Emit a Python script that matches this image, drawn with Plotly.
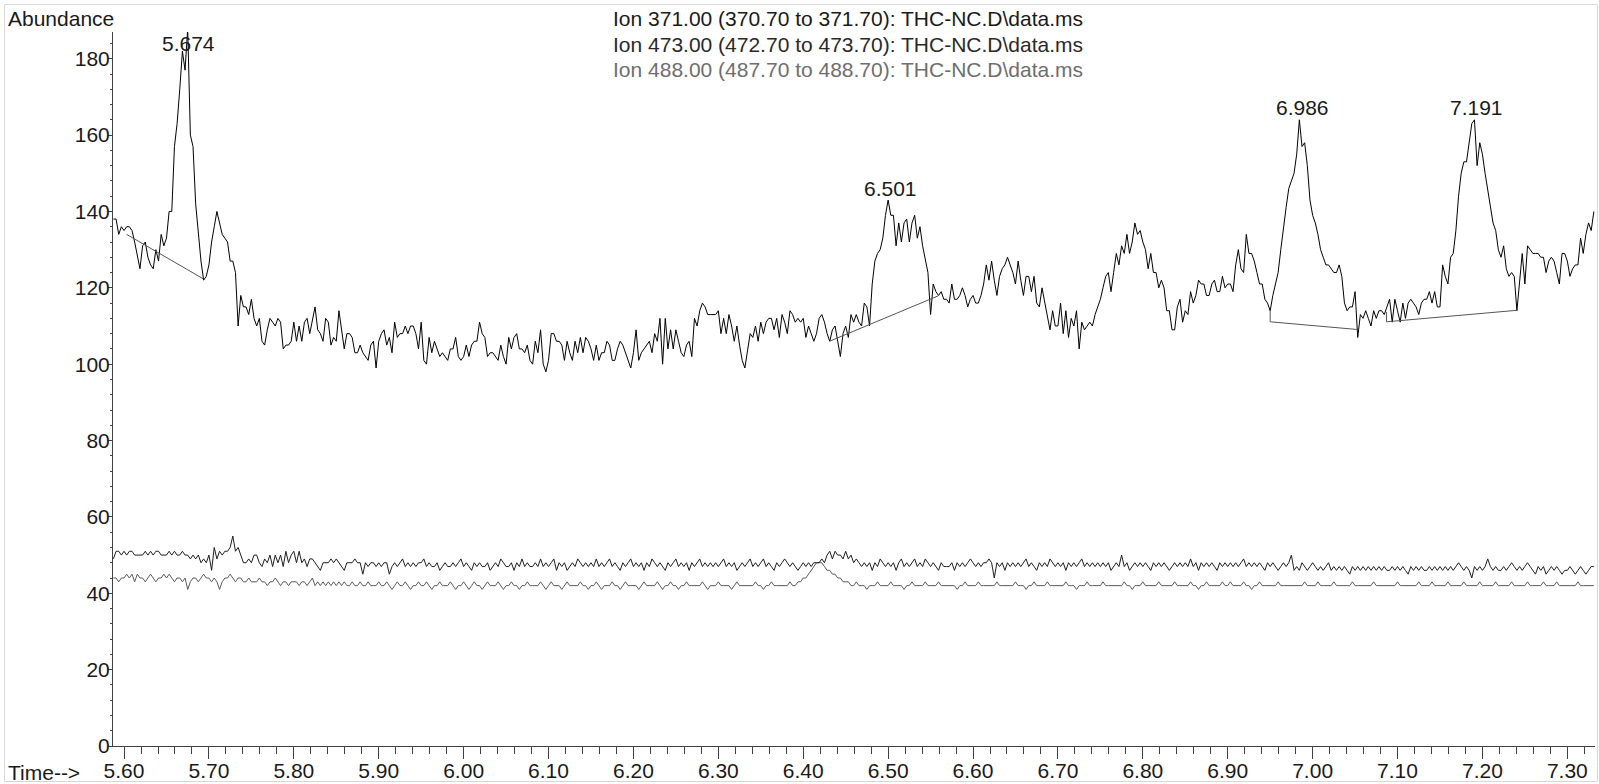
import numpy as np
import plotly.graph_objects as go

# ---------------- data ----------------
T0 = 5.5875          # first scan time (min)
DT = 0.003125        # scan interval (min)

ion371 = [
    138, 138, 134, 136,
    135, 136, 136, 135, 132, 128, 125, 131, 132, 128, 126, 125, 130, 127, 134, 131,
    133, 140, 140, 157, 163, 172, 182, 177, 188, 160, 157, 142, 134, 127, 122, 123,
    126, 132, 136, 140, 137, 134, 133, 132, 127, 127, 124, 110, 118, 115, 115, 113,
    117, 112, 110, 112, 106, 105, 109, 112, 111, 110, 112, 111, 104, 105, 105, 106,
    111, 106, 110, 106, 111, 112, 108, 112, 115, 109, 108, 106, 112, 111, 105, 107,
    106, 114, 109, 104, 108, 108, 107, 103, 103, 105, 103, 102, 101, 105, 106, 99,
    106, 108, 109, 105, 107, 103, 111, 107, 108, 108, 110, 108, 110, 110, 108, 104,
    111, 101, 100, 107, 103, 106, 104, 102, 103, 102, 101, 104, 104, 107, 102, 101,
    102, 105, 102, 105, 106, 106, 111, 108, 107, 102, 103, 103, 102, 101, 105, 102,
    100, 107, 104, 107, 108, 104, 104, 103, 105, 101, 100, 106, 103, 109, 100, 98,
    101, 108, 108, 106, 106, 105, 101, 106, 103, 101, 106, 103, 107, 103, 107, 106,
    104, 101, 105, 101, 103, 103, 106, 105, 101, 101, 104, 106, 105, 103, 101, 99,
    103, 109, 101, 103, 104, 105, 106, 103, 108, 106, 112, 100, 112, 104, 109, 104,
    109, 106, 103, 102, 105, 106, 102, 112, 110, 114, 116, 115, 113, 113, 113, 113,
    114, 108, 112, 108, 113, 110, 106, 110, 105, 101, 99, 104, 108, 107, 110, 106,
    111, 108, 111, 112, 112, 109, 112, 107, 113, 111, 108, 114, 113, 111, 112, 111,
    112, 107, 110, 108, 106, 108, 112, 113, 111, 108, 106, 109, 110, 106, 102, 108,
    110, 107, 113, 111, 113, 111, 110, 116, 115, 110, 121, 127, 129, 130, 133, 139,
    143, 139, 139, 131, 137, 132, 137, 138, 132, 137, 139, 133, 136, 131, 127, 124,
    113, 121, 119, 118, 119, 117, 117, 116, 121, 117, 117, 118, 120, 118, 115, 117,
    118, 116, 116, 118, 121, 126, 122, 127, 122, 118, 123, 125, 126, 128, 126, 124,
    121, 127, 122, 118, 123, 123, 119, 123, 116, 115, 120, 116, 112, 109, 114, 110,
    110, 116, 108, 114, 107, 112, 110, 114, 104, 111, 109, 110, 111, 110, 113, 115,
    117, 120, 123, 124, 119, 124, 129, 126, 131, 129, 134, 129, 132, 137, 134, 135,
    132, 130, 125, 129, 124, 124, 120, 122, 120, 114, 114, 109, 109, 115, 117, 111,
    114, 113, 119, 116, 118, 122, 121, 121, 118, 118, 121, 122, 119, 119, 123, 120,
    121, 121, 119, 126, 130, 125, 124, 134, 129, 129, 127, 124, 121, 121, 117, 116,
    114, 118, 121, 124, 130, 136, 141, 146, 148, 150, 155, 164, 157, 158, 152, 143,
    139, 137, 134, 130, 128, 126, 126, 125, 124, 124, 126, 123, 116, 114, 115, 115,
    119, 107, 113, 112, 114, 112, 110, 114, 112, 114, 114, 113, 115, 117, 111, 117,
    114, 111, 116, 112, 116, 117, 116, 115, 113, 116, 117, 117, 119, 116, 119, 115,
    115, 126, 123, 121, 128, 129, 135, 144, 150, 153, 153, 158, 163, 164, 152, 158,
    155, 150, 146, 141, 137, 135, 130, 128, 131, 125, 123, 124, 123, 114, 121, 129,
    121, 131, 130, 129, 129, 129, 128, 128, 124, 127, 128, 127, 124, 121, 129, 129,
    127, 123, 125, 126, 126, 133, 129, 134, 137, 135, 140,
]

ion473 = [
    49, 51, 51, 50,
    51, 50, 51, 51, 50, 50, 50, 50, 51, 50, 51, 50, 51, 51, 50, 50,
    50, 51, 50, 51, 50, 50, 51, 50, 50, 49, 50, 49, 50, 48, 49, 48,
    50, 46, 52, 49, 51, 50, 51, 51, 52, 55, 51, 52, 50, 48, 48, 49,
    48, 50, 50, 48, 47, 49, 48, 50, 47, 50, 48, 50, 47, 51, 48, 50,
    51, 48, 51, 48, 49, 47, 49, 49, 48, 47, 46, 48, 48, 48, 49, 48,
    49, 48, 47, 46, 48, 48, 48, 49, 48, 48, 45, 48, 47, 48, 48, 47,
    48, 47, 48, 48, 45, 47, 48, 47, 48, 49, 47, 48, 47, 48, 47, 48,
    48, 49, 47, 48, 47, 47, 48, 46, 47, 48, 47, 47, 48, 47, 48, 49,
    47, 48, 47, 46, 48, 47, 48, 47, 47, 48, 46, 47, 48, 47, 49, 48,
    47, 47, 48, 46, 48, 47, 49, 47, 48, 47, 47, 48, 47, 49, 47, 48,
    47, 48, 49, 46, 48, 47, 48, 46, 47, 48, 47, 49, 48, 47, 48, 47,
    48, 47, 49, 47, 48, 47, 48, 49, 47, 48, 47, 46, 48, 47, 48, 49,
    47, 48, 47, 48, 46, 48, 47, 49, 48, 47, 48, 47, 46, 48, 47, 48,
    49, 47, 48, 47, 48, 46, 48, 47, 48, 49, 47, 48, 47, 48, 47, 48,
    47, 48, 49, 47, 48, 47, 48, 46, 47, 48, 47, 48, 49, 47, 48, 47,
    48, 49, 47, 48, 47, 46, 48, 47, 48, 49, 48, 47, 48, 47, 46, 47,
    48, 47, 48, 47, 48, 48, 48, 49, 48, 50, 51, 49, 51, 50, 50, 49,
    51, 49, 50, 48, 49, 48, 47, 48, 47, 48, 46, 48, 47, 49, 48, 47,
    48, 47, 48, 46, 48, 49, 47, 48, 47, 48, 49, 47, 48, 47, 49, 48,
    47, 48, 47, 46, 48, 47, 47, 47, 48, 46, 48, 47, 48, 47, 48, 49,
    48, 47, 48, 47, 48, 48, 49, 48, 44, 48, 47, 48, 46, 48, 47, 48,
    47, 48, 47, 48, 49, 47, 48, 47, 46, 48, 47, 48, 47, 49, 48, 47,
    48, 47, 48, 46, 48, 47, 48, 47, 48, 49, 47, 48, 47, 48, 47, 48,
    47, 48, 47, 48, 46, 47, 48, 47, 50, 47, 48, 46, 47, 48, 47, 48,
    47, 48, 47, 46, 48, 47, 48, 47, 48, 47, 46, 47, 48, 47, 48, 47,
    48, 47, 49, 47, 48, 46, 48, 47, 48, 47, 48, 47, 46, 48, 47, 48,
    47, 48, 47, 48, 47, 48, 49, 47, 48, 47, 48, 47, 48, 47, 46, 48,
    47, 48, 47, 46, 47, 48, 47, 48, 50, 46, 47, 46, 48, 47, 46, 47,
    48, 47, 46, 47, 46, 47, 48, 46, 47, 46, 47, 46, 47, 46, 45, 47,
    46, 47, 46, 47, 46, 47, 46, 47, 46, 47, 46, 47, 46, 46, 47, 46,
    47, 46, 47, 46, 45, 47, 46, 47, 46, 47, 46, 46, 47, 46, 47, 46,
    47, 46, 47, 46, 47, 46, 47, 48, 47, 46, 47, 46, 44, 47, 46, 47,
    46, 47, 49, 47, 46, 47, 46, 46, 47, 46, 47, 48, 47, 46, 47, 46,
    47, 48, 47, 46, 45, 47, 46, 47, 45, 46, 47, 46, 47, 46, 45, 46,
    46, 47, 46, 45, 46, 47, 46, 45, 46, 47, 47,
]

ion488 = [
    44, 44, 43, 44,
    44, 45, 44, 45, 43, 45, 44, 44, 43, 44, 45, 44, 43, 44, 44, 45,
    44, 45, 44, 43, 44, 44, 43, 44, 41, 43, 44, 44, 43, 44, 45, 44,
    44, 43, 44, 43, 41, 43, 44, 44, 45, 44, 43, 44, 44, 43, 43, 44,
    43, 43, 43, 44, 43, 43, 42, 43, 43, 44, 43, 42, 43, 43, 42, 43,
    43, 43, 42, 43, 43, 42, 43, 44, 42, 43, 42, 43, 42, 43, 42, 43,
    42, 43, 42, 43, 42, 42, 43, 42, 42, 43, 42, 42, 43, 42, 42, 42,
    43, 42, 42, 43, 42, 41, 42, 43, 42, 42, 43, 42, 41, 42, 42, 43,
    42, 42, 43, 42, 41, 42, 42, 43, 42, 42, 42, 43, 42, 41, 42, 42,
    43, 42, 41, 42, 43, 42, 42, 41, 42, 43, 42, 42, 42, 43, 42, 41,
    42, 42, 43, 42, 42, 41, 42, 42, 43, 42, 42, 42, 42, 43, 42, 41,
    42, 43, 42, 42, 42, 41, 42, 43, 42, 42, 42, 42, 43, 42, 42, 41,
    42, 42, 43, 42, 41, 42, 42, 42, 43, 42, 42, 41, 42, 43, 42, 42,
    42, 42, 41, 42, 43, 42, 42, 42, 42, 43, 42, 41, 42, 42, 43, 42,
    42, 41, 42, 42, 43, 42, 42, 42, 42, 42, 43, 42, 41, 42, 42, 42,
    43, 42, 42, 42, 42, 41, 42, 43, 42, 42, 42, 42, 42, 42, 43, 42,
    42, 41, 42, 42, 43, 42, 42, 42, 42, 42, 42, 43, 42, 42, 43, 43,
    44, 44, 45, 46, 47, 48, 48, 48, 47, 46, 46, 45, 45, 44, 44, 43,
    43, 43, 42, 42, 43, 42, 42, 42, 41, 42, 42, 42, 43, 42, 42, 42,
    42, 43, 42, 42, 42, 42, 41, 42, 42, 43, 42, 42, 42, 42, 43, 42,
    42, 42, 42, 43, 42, 42, 42, 42, 42, 42, 41, 42, 42, 43, 42, 42,
    42, 42, 43, 42, 42, 42, 42, 42, 42, 43, 42, 42, 42, 42, 42, 42,
    43, 42, 42, 42, 41, 42, 42, 43, 42, 42, 42, 42, 43, 42, 42, 42,
    42, 42, 42, 43, 42, 42, 42, 41, 42, 42, 42, 43, 42, 42, 42, 42,
    42, 43, 42, 42, 42, 42, 42, 42, 42, 43, 42, 42, 41, 42, 42, 42,
    43, 42, 42, 42, 42, 42, 43, 42, 42, 42, 42, 42, 43, 42, 42, 42,
    42, 42, 43, 42, 42, 41, 42, 42, 43, 42, 42, 42, 42, 42, 43, 42,
    42, 43, 42, 42, 42, 42, 43, 42, 42, 41, 42, 42, 43, 42, 42, 42,
    42, 42, 42, 43, 42, 42, 42, 42, 42, 42, 42, 42, 42, 43, 42, 42,
    42, 42, 43, 42, 42, 42, 42, 42, 43, 42, 42, 42, 42, 42, 42, 43,
    42, 42, 42, 42, 42, 42, 42, 43, 42, 42, 42, 42, 42, 42, 42, 42,
    43, 42, 42, 42, 42, 42, 42, 42, 43, 42, 42, 42, 42, 43, 42, 42,
    42, 42, 42, 43, 42, 42, 42, 42, 42, 43, 42, 42, 42, 42, 42, 43,
    42, 42, 42, 42, 42, 43, 42, 42, 42, 42, 42, 43, 42, 42, 42, 42,
    42, 43, 42, 42, 42, 42, 42, 43, 42, 42, 42, 42, 43, 42, 42, 42,
    42, 42, 42, 42, 43, 42, 42, 42, 42, 42, 42,
]

# integration baselines (time, abundance)
baseline_times = [[5.603, 5.693], [6.432, 6.559], [6.950, 6.950, 7.052], [7.087, 7.087, 7.240]]
baseline_values = [[134.0, 122.4], [106.1, 117.9], [114.1, 111.1, 109.1], [113.7, 111.1, 114.1]]

peak_rt = [5.674, 6.501, 6.986, 7.191]
peak_text = ["5.674", "6.501", "6.986", "7.191"]

title_lines = [
    "Ion 371.00 (370.70 to 371.70): THC-NC.D\\data.ms",
    "Ion 473.00 (472.70 to 473.70): THC-NC.D\\data.ms",
    "Ion 488.00 (487.70 to 488.70): THC-NC.D\\data.ms",
]
title_colors = ["#1a1a1a", "#2a2a2a", "#6e6e6e"]

Y_MAX = 187
X_RANGE = [5.587, 7.3326]

# ---------------- figure ----------------
def times_for(vals):
    return T0 + DT * np.arange(len(vals))

t371 = times_for(ion371)
t473 = times_for(ion473)
t488 = times_for(ion488)

FONT = "Liberation Sans, Arial, Helvetica, sans-serif"

fig = go.Figure()
fig.add_trace(go.Scatter(x=t488, y=ion488, mode="lines",
                         line=dict(color="#5a5a5a", width=1), hoverinfo="skip"))
fig.add_trace(go.Scatter(x=t473, y=ion473, mode="lines",
                         line=dict(color="#1e1e1e", width=1), hoverinfo="skip"))
fig.add_trace(go.Scatter(x=t371, y=ion371, mode="lines",
                         line=dict(color="#000000", width=1), hoverinfo="skip"))

bx, by = [], []
for ts, vs in zip(baseline_times, baseline_values):
    bx += ts + [None]
    by += vs + [None]
fig.add_trace(go.Scatter(x=bx, y=by, mode="lines",
                         line=dict(color="#555555", width=1), hoverinfo="skip"))

arr371 = np.array(ion371, dtype=float)
for rt, txt in zip(peak_rt, peak_text):
    mask = np.abs(t371 - rt) < 0.006
    top = arr371[mask].max()
    ylab = min(top + 3.1, 184.1)
    fig.add_annotation(x=rt, y=ylab, xref="x", yref="y", text=txt, showarrow=False,
                       xanchor="center", yanchor="middle", xshift=2,
                       font=dict(family=FONT, size=21, color="#1a1a1a"))

W, H = 1599, 784
L, R, T, B = 113, 4, 32, 38
pw, ph = W - L - R, H - T - B

def px(xp):
    return (xp - L) / pw

def py(yp):
    return (H - B - yp) / ph

for i, (line, col) in enumerate(zip(title_lines, title_colors)):
    fig.add_annotation(x=px(611), y=py(18.5 + 25.5 * i), xref="paper", yref="paper",
                       text=line, showarrow=False, xanchor="left", yanchor="middle",
                       font=dict(family=FONT, size=21, color=col))

fig.add_annotation(x=px(6), y=py(18), xref="paper", yref="paper", text="Abundance",
                   showarrow=False, xanchor="left", yanchor="middle",
                   font=dict(family=FONT, size=21, color="#1a1a1a"))
fig.add_annotation(x=px(6), y=py(772), xref="paper", yref="paper", text="Time-->",
                   showarrow=False, xanchor="left", yanchor="middle",
                   font=dict(family=FONT, size=21, color="#1a1a1a"))

# light outer frame
fig.add_shape(type="rect", xref="paper", yref="paper",
              x0=px(4.5), x1=px(1597.5), y0=py(781.5), y1=py(4.5),
              line=dict(color="#d8d8d8", width=1), layer="below")

fig.update_layout(
    width=W, height=H,
    margin=dict(l=L, r=R, t=T, b=B, pad=0, autoexpand=False),
    paper_bgcolor="white", plot_bgcolor="white",
    showlegend=False,
    font=dict(family=FONT, size=21, color="#1a1a1a"),
)
fig.update_xaxes(
    range=X_RANGE, tick0=5.6, dtick=0.1, tickformat=".2f", automargin=False,
    ticks="outside", ticklen=12, tickwidth=1, tickcolor="#404040",
    ticklabelstandoff=-6,
    showline=True, linecolor="#404040", linewidth=1,
    showgrid=False, zeroline=False,
    tickfont=dict(family=FONT, size=21, color="#1a1a1a"),
    minor=dict(tick0=5.6, dtick=0.02, ticks="outside", ticklen=7,
               tickwidth=1, tickcolor="#404040", showgrid=False),
)
fig.update_yaxes(
    range=[0, Y_MAX], tick0=0, dtick=20, automargin=False,
    ticks="outside", ticklen=4, tickwidth=1, tickcolor="#404040",
    ticklabelstandoff=-6,
    showline=True, linecolor="#404040", linewidth=1,
    showgrid=False, zeroline=False,
    tickfont=dict(family=FONT, size=21, color="#1a1a1a"),
    minor=dict(tick0=0, dtick=4, ticks="outside", ticklen=2,
               tickwidth=1, tickcolor="#404040", showgrid=False),
)

fig.write_html(
    "out.html",
    config={"displayModeBar": False},
    post_script="document.body.style.margin='0';document.body.style.overflow='hidden';",
)
